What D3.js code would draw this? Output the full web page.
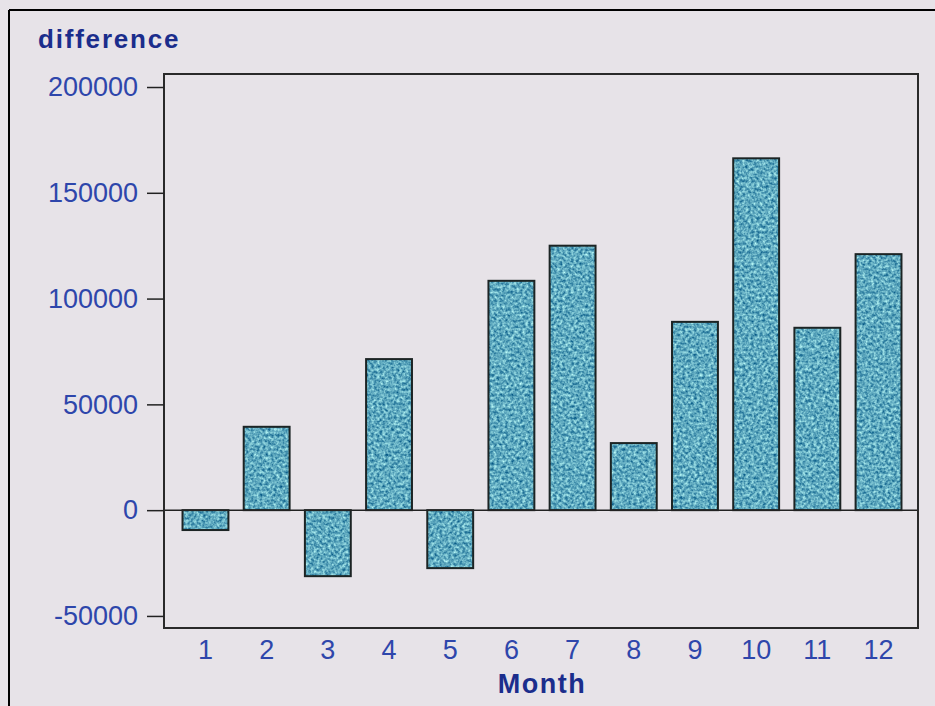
<!DOCTYPE html>
<html>
<head>
<meta charset="utf-8">
<script src="https://cdn.jsdelivr.net/npm/d3@7"></script>
<style>
  html, body { margin: 0; padding: 0; background: #e7e3e8; }
  svg { display: block; }
</style>
</head>
<body>
<svg id="chart" width="935" height="706"></svg>
<script>
// ---- data ----
const months = ["1","2","3","4","5","6","7","8","9","10","11","12"];
const difference = [-9400, 39400, -31200, 71400, -27400, 108400, 125000, 31700, 89000, 166300, 86200, 121000];
const yTickValues = [-50000, 0, 50000, 100000, 150000, 200000];
const yTitle = "difference";
const xTitle = "Month";

const svg = d3.select("#chart");
const W = 935, H = 706;
const plot = { left: 164, right: 918, top: 74, bottom: 628 };
const FONT = "'Liberation Sans', Arial, sans-serif";

svg.append("rect").attr("width", W).attr("height", H).attr("fill", "#e7e3e8");
// outer frame (top and left edges visible)
svg.append("line").attr("x1", 9).attr("x2", W).attr("y1", 10).attr("y2", 10).attr("stroke", "#000").attr("stroke-width", 2);
svg.append("line").attr("x1", 9).attr("x2", 9).attr("y1", 10).attr("y2", H).attr("stroke", "#000").attr("stroke-width", 2);

// texture filter
const defs = svg.append("defs");
const f = defs.append("filter").attr("id", "tex")
  .attr("x", 0).attr("y", 0).attr("width", 1).attr("height", 1)
  .attr("color-interpolation-filters", "sRGB");
f.append("feTurbulence").attr("type", "fractalNoise").attr("baseFrequency", "0.35")
  .attr("numOctaves", 2).attr("seed", 7).attr("result", "n");
f.append("feColorMatrix").attr("in", "n").attr("type", "matrix")
  .attr("values", "0.95 0 0 0 -0.1  0.85 0 0 0 0.24  0.6 0 0 0 0.45  0 0 0 0 1")
  .attr("result", "c");
f.append("feComposite").attr("in", "c").attr("in2", "SourceGraphic").attr("operator", "in");

const x = d3.scaleBand().domain(months).range([plot.left + 2, plot.right])
  .paddingInner(0.25).paddingOuter(0.27);
const y = d3.scaleLinear().domain([-55700, 206150]).range([plot.bottom, plot.top]);

const data = months.map((m, i) => ({ m, v: difference[i] }));

// bars
const bars = svg.append("g");
bars.selectAll("rect.fill").data(data).join("rect")
  .attr("class", "fill")
  .attr("x", d => x(d.m))
  .attr("width", x.bandwidth())
  .attr("y", d => y(Math.max(0, d.v)))
  .attr("height", d => Math.abs(y(d.v) - y(0)))
  .attr("fill", "#5aa0b8")
  .attr("filter", "url(#tex)");
bars.selectAll("rect.edge").data(data).join("rect")
  .attr("class", "edge")
  .attr("x", d => x(d.m))
  .attr("width", x.bandwidth())
  .attr("y", d => y(Math.max(0, d.v)))
  .attr("height", d => Math.abs(y(d.v) - y(0)))
  .attr("fill", "none")
  .attr("stroke", "#1c2424")
  .attr("stroke-width", 2);

// zero reference line
svg.append("line").attr("x1", plot.left).attr("x2", plot.right)
  .attr("y1", y(0)).attr("y2", y(0)).attr("stroke", "#222").attr("stroke-width", 1.5);

// plot frame
svg.append("rect").attr("x", plot.left).attr("y", plot.top)
  .attr("width", plot.right - plot.left).attr("height", plot.bottom - plot.top)
  .attr("fill", "none").attr("stroke", "#2a2a2a").attr("stroke-width", 2);

// y axis
const yAxis = d3.axisLeft(y).tickValues(yTickValues).tickSize(17).tickPadding(9)
  .tickFormat(d => String(d));
const gy = svg.append("g").attr("transform", `translate(${plot.left},0)`).call(yAxis);
gy.select(".domain").remove();
gy.selectAll(".tick line").attr("stroke", "#222").attr("stroke-width", 1.5);
gy.selectAll(".tick text").attr("fill", "#2e46ab")
  .style("font-family", FONT).style("font-size", "27px");

// x axis
const xAxis = d3.axisBottom(x).tickSize(0).tickPadding(12);
const gx = svg.append("g").attr("transform", `translate(0,${plot.bottom})`).call(xAxis);
gx.select(".domain").remove();
gx.selectAll(".tick text").attr("fill", "#2e46ab")
  .style("font-family", FONT).style("font-size", "27px");

// titles
svg.append("text").attr("x", 38).attr("y", 48).text(yTitle)
  .attr("fill", "#1b2d8c").style("font-family", FONT)
  .style("font-weight", "bold").style("font-size", "26px").style("letter-spacing", "1.8px");
svg.append("text").attr("x", 542).attr("y", 693).attr("text-anchor", "middle")
  .text(xTitle)
  .attr("fill", "#1b2d8c").style("font-family", FONT)
  .style("font-weight", "bold").style("font-size", "27px").style("letter-spacing", "1.5px");
</script>
</body>
</html>
